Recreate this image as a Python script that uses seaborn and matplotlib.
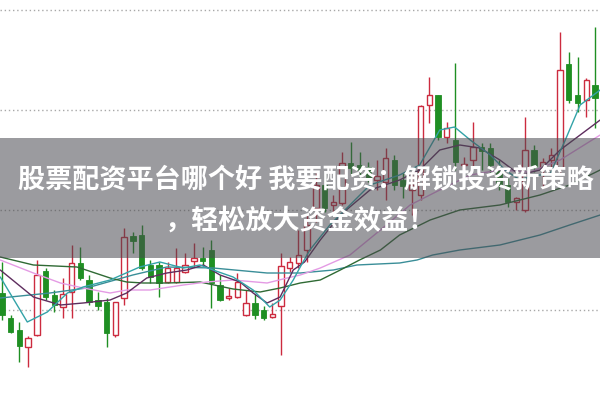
import matplotlib
matplotlib.use("Agg")
import matplotlib.pyplot as plt
import seaborn as sns
import numpy as np
from matplotlib.patches import Rectangle

# ---- candle data (index order, price units) ----
opens  = [11.7, 9.2, 8.0, 6.3, 7.5, 13.9, 11.5, 10.3, 11.8, 14.7,
          13.0, 11.0, 10.8, 7.5, 11.2, 17.4, 17.5, 14.5, 14.5, 12.8,
          12.8, 13.8, 14.9, 15.2, 16.0, 12.5, 11.25, 11.3, 9.5, 10.7,
          10.0, 9.3, 10.4, 14.2, 14.7, 16.0, 20.2, 22.5, 20.5, 20.7,
          24.7, 24.5, 24.3, 23.0, 22.8, 25.0, 23.0, 22.0, 21.5, 30.5,
          31.5, 27.3, 27.0, 24.5, 25.0, 26.3, 26.2, 24.2, 22.5, 20.8,
          20.0, 26.0, 24.2, 25.0, 24.2, 34.6, 31.5, 31.0, 32.5]
closes = [9.5, 7.8, 6.4, 7.2, 13.5, 11.3, 10.5, 11.6, 14.7, 13.2,
          10.8, 10.4, 7.7, 10.8, 17.3, 16.9, 14.2, 13.3, 12.7, 14.2,
          14.2, 14.5, 15.2, 14.9, 12.7, 11.0, 11.35, 12.8, 10.7, 9.5,
          9.2, 9.6, 14.4, 14.8, 15.5, 18.5, 22.5, 20.2, 20.8, 24.7,
          24.2, 24.0, 23.2, 23.4, 25.2, 22.5, 22.4, 22.5, 30.4, 31.5,
          27.3, 28.2, 24.8, 24.6, 26.3, 25.9, 24.5, 22.5, 20.8, 21.2,
          26.0, 24.3, 24.8, 25.5, 34.0, 31.0, 30.7, 33.0, 31.2]
highs  = [14.8, 9.5, 8.8, 7.4, 15.0, 14.2, 12.0, 13.2, 16.5, 16.3,
          13.5, 11.8, 11.2, 10.8, 18.2, 17.8, 18.5, 15.0, 14.8, 14.8,
          16.2, 15.7, 16.7, 16.3, 17.0, 13.5, 12.2, 13.7, 12.0, 11.6,
          10.4, 10.7, 15.7, 15.3, 18.0, 19.5, 23.7, 23.8, 21.5, 25.8,
          26.8, 25.8, 24.8, 25.0, 26.2, 25.5, 23.7, 23.8, 30.5, 33.3,
          31.5, 28.8, 34.7, 25.3, 28.8, 26.7, 26.7, 25.0, 23.2, 21.3,
          29.3, 26.5, 25.2, 26.2, 37.8, 35.8, 35.3, 33.2, 38.3]
lows   = [9.0, 7.7, 4.8, 4.3, 7.4, 11.0, 9.8, 9.2, 9.2, 13.0,
          10.5, 10.0, 6.3, 7.3, 10.5, 15.7, 14.0, 12.7, 11.3, 12.7,
          12.7, 13.7, 14.3, 14.5, 10.2, 10.9, 11.0, 11.2, 9.4, 9.1,
          9.0, 9.2, 5.5, 13.8, 14.2, 14.8, 18.8, 19.8, 19.8, 20.5,
          23.5, 23.0, 22.8, 22.0, 21.0, 22.0, 21.2, 19.5, 21.0, 28.7,
          27.0, 26.7, 24.0, 24.0, 24.3, 24.0, 23.5, 22.0, 20.3, 20.0,
          19.8, 23.8, 22.2, 24.0, 23.8, 30.7, 29.8, 29.3, 28.2]

# ---- moving-average lines (index, price) ----
ma5_x  = [-0.2, 2.9, 5.2, 7.5, 9.3, 12.4, 15.8, 18.1, 20.8, 22.7, 24.2, 26.5,
          28.8, 30.7, 31.9, 33.4, 34.2, 35.3, 37.6, 39.9, 42.2, 45.6, 47.9,
          50.2, 51.9, 53.7, 56.0, 57.7, 59.4, 61.1, 62.8, 64.6, 66.3, 68.6]
ma5_y  = [13.3, 8.8, 9.8, 11.7, 12.3, 13.0, 14.3, 14.8, 14.2, 14.5, 14.0, 13.3,
          12.0, 10.3, 11.0, 13.0, 14.3, 16.0, 18.5, 20.5, 22.5, 23.5, 24.5,
          28.0, 28.3, 27.0, 25.5, 24.0, 23.0, 23.5, 23.5, 27.0, 30.5, 32.0]
ma10_x = [-0.2, 3.6, 6.7, 9.3, 12.4, 14.3, 16.6, 18.9, 21.2, 23.1, 25.0, 27.3,
          28.8, 30.4, 31.9, 33.4, 34.7, 36.5, 38.8, 42.2, 45.6, 47.9, 50.2,
          52.5, 54.8, 57.1, 59.4, 61.7, 64.0, 66.3, 68.6]
ma10_y = [14.0, 11.3, 10.5, 10.7, 11.0, 11.7, 13.2, 13.7, 14.0, 14.5, 13.5, 12.8,
          11.7, 10.7, 11.3, 14.0, 14.8, 17.0, 19.5, 22.0, 23.0, 24.0, 26.0,
          26.5, 26.2, 25.0, 23.5, 24.0, 26.0, 27.5, 29.0]
ma20_x = [-0.2, 3.6, 6.7, 9.3, 12.4, 14.3, 17.0, 20.8, 23.5, 26.5, 30.4, 32.7,
          34.2, 36.5, 39.9, 43.4, 46.8, 50.2, 53.7, 57.1, 60.6, 64.0, 68.6]
ma20_y = [15.0, 13.7, 12.7, 12.2, 11.7, 12.0, 12.0, 12.5, 12.8, 13.0, 12.7, 13.2,
          13.5, 14.2, 15.5, 18.0, 20.5, 22.0, 23.5, 24.0, 23.8, 25.0, 27.5]
ma30_x = [-0.2, 3.6, 8.6, 12.4, 14.3, 16.2, 18.9, 22.7, 26.5, 29.6, 31.9, 34.2,
          36.5, 38.8, 41.0, 43.4, 45.6, 49.1, 52.5, 57.1, 61.7, 65.1, 68.6]
ma30_y = [15.3, 14.5, 14.3, 13.2, 12.8, 12.7, 12.7, 12.8, 12.1, 11.8, 12.2, 12.7,
          13.0, 14.0, 15.0, 16.0, 17.5, 19.0, 20.0, 20.5, 21.5, 22.5, 24.0]
ma60_x = [-0.2, 5.5, 9.7, 15.0, 18.9, 24.2, 30.4, 34.2, 38.0, 40.7, 45.6, 47.6,
          49.4, 52.5, 57.1, 61.7, 65.1, 68.6]
ma60_y = [11.2, 11.7, 12.2, 13.5, 14.3, 14.2, 13.7, 13.7, 14.0, 14.5, 14.7, 15.0,
          15.5, 16.0, 16.5, 17.5, 18.5, 19.5]

title_line1 = "股票配资平台哪个好 我要配资：解锁投资新策略"
title_line2 = "，轻松放大资金效益！"
grid_levels = [10, 20, 30, 40]

sns.set_theme(style="white")
plt.rcParams['font.family'] = ['Noto Sans CJK SC', 'DejaVu Sans']

fig = plt.figure(figsize=(6.0, 3.99), dpi=100)
ax = fig.add_axes([0, 0, 1, 1])
ax.set_xlim(-0.23, 68.58)
ax.set_ylim(1.1, 41.0)
ax.axis('off')

for g in grid_levels:
    ax.axhline(g, color='#a8a8a8', linewidth=1.0, linestyle=(0, (1, 2)), zorder=0)

RED = '#cc2b3f'
GREEN = '#1f8f23'
w = 0.62
idx = np.arange(len(opens))
for i in idx:
    o, c, h, l = opens[i], closes[i], highs[i], lows[i]
    up = c >= o
    top, bot = max(o, c), min(o, c)
    if up:
        ax.vlines(i, top, h, color=RED, linewidth=1.0, zorder=2)
        ax.vlines(i, l, bot, color=RED, linewidth=1.0, zorder=2)
        ax.bar(i, max(top - bot, 0.12), bottom=bot, width=w, facecolor='white',
               edgecolor=RED, linewidth=1.0, zorder=2)
    else:
        ax.vlines(i, l, h, color=GREEN, linewidth=1.0, zorder=2)
        ax.bar(i, max(top - bot, 0.12), bottom=bot, width=w, facecolor=GREEN,
               edgecolor=GREEN, linewidth=0.6, zorder=2)

lines = [(ma60_x, ma60_y, '#3a8e98'), (ma30_x, ma30_y, '#2f6a34'),
         (ma20_x, ma20_y, '#e49be4'), (ma10_x, ma10_y, '#5e2d5e'),
         (ma5_x, ma5_y, '#33a3a8')]
for xs, ys, col in lines:
    sns.lineplot(x=xs, y=ys, ax=ax, color=col, linewidth=1.0, sort=False,
                 estimator=None, zorder=3)

# banner
fig.patches.append(Rectangle((0, (399 - 258) / 399), 1, 120 / 399,
                             transform=fig.transFigure, facecolor='#4a4a50',
                             alpha=0.55, edgecolor='none', zorder=5))
fig.text(0.51, (399 - 180) / 399, title_line1, color='white', fontsize=19.5,
         fontweight='bold', ha='center', va='center', zorder=6)
fig.text(0.50, (399 - 221) / 399, title_line2, color='white', fontsize=19.5,
         fontweight='bold', ha='center', va='center', zorder=6)

fig.savefig("out.png", dpi=100)
